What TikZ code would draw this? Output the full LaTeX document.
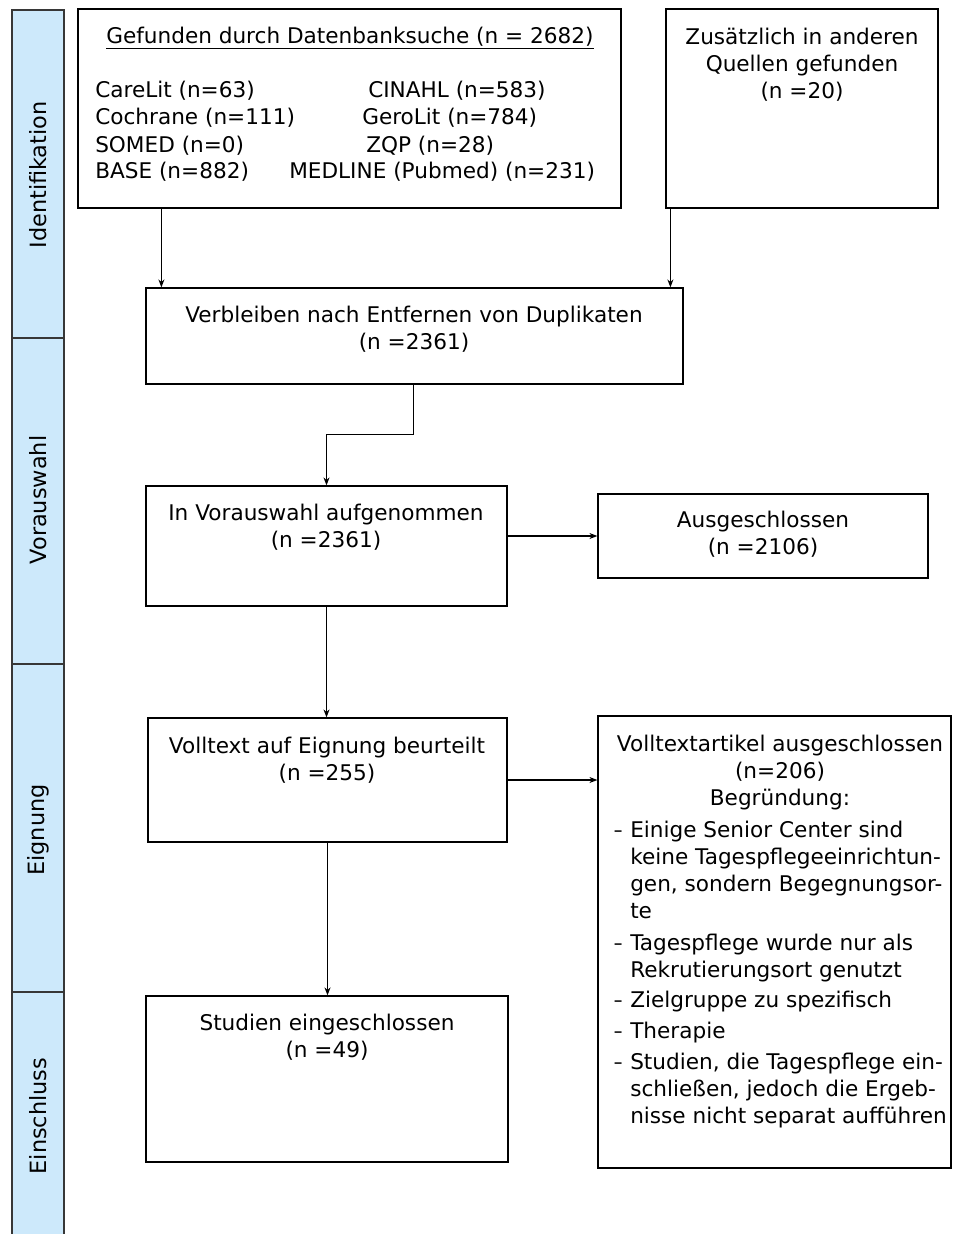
\documentclass[tikz,border=0pt]{standalone}
\usepackage{fontspec}
\setmainfont{DejaVu Sans}
\usetikzlibrary{arrows.meta,fit}
\definecolor{band}{RGB}{205,233,251}
\definecolor{bandline}{RGB}{55,55,55}
\newcommand\rdash{\makebox[12.75pt][l]{\hspace*{0.5pt}\scalebox{0.8}[1]{\textendash}}}
\newcommand\rind{\hspace*{12.75pt}}
\begin{document}
\begin{tikzpicture}[x=0.75pt,y=-0.75pt,
  box/.style={draw=black, line width=0.9pt, fill=white, inner sep=0pt},
  bandbox/.style={fill=band, draw=none, inner sep=0pt},
  bandlabel/.style={rotate=90, font=\fontsize{16.8}{20}\selectfont, inner sep=0pt},
  txt/.style={font=\fontsize{16.2}{20.25}\selectfont, inner sep=0pt, text=black},
  arr/.style={-{Stealth[length=6pt,width=4.5pt]}, line width=0.9pt, black}
]
\useasboundingbox (0,0) rectangle (953,1234);
\fill[white] (0,0) rectangle (953,1234);

% side bands
\node[bandbox, fit={(12,10) (64,338)}] (s1) {};
\node[bandbox, fit={(12,338) (64,664)}] (s2) {};
\node[bandbox, fit={(12,664) (64,992)}] (s3) {};
\node[bandbox, fit={(12,992) (64,1234)}] (s4) {};
\draw[bandline, line width=1.3pt] (s4.south west) -- (s1.north west) -- (s1.north east) -- (s4.south east);
\draw[bandline, line width=1.3pt] (s1.south west) -- (s1.south east);
\draw[bandline, line width=1.3pt] (s2.south west) -- (s2.south east);
\draw[bandline, line width=1.3pt] (s3.south west) -- (s3.south east);
\node[bandlabel] (l1) at (38,175) {Identifikation};
\node[bandlabel] (l2) at (38,500) {Vorauswahl};
\node[bandlabel] (l3) at (38,830) {Eignung};
\node[bandlabel] (l4) at (38,1116) {Einschluss};

% boxes
\node[box, fit={(78,9) (621,208)}] (b1) {};
\node[box, fit={(666,9) (938,208)}] (b2) {};
\node[box, fit={(146,288) (683,384)}] (b3) {};
\node[box, fit={(146,486) (507,606)}] (b4) {};
\node[box, fit={(598,494) (928,578)}] (b5) {};
\node[box, fit={(148,718) (507,842)}] (b6) {};
\node[box, fit={(598,716) (951,1168)}] (b7) {};
\node[box, fit={(146,996) (508,1162)}] (b8) {};

% texts top-left box
\node[txt, anchor=base west] (h1) at (106,44) {\underline{Gefunden durch Datenbanksuche (n = 2682)}};
\node[txt, anchor=base west] (d1) at (95,98) {CareLit (n=63)};
\node[txt, anchor=base west] (d2) at (368,98) {CINAHL (n=583)};
\node[txt, anchor=base west] (d3) at (95,125) {Cochrane (n=111)};
\node[txt, anchor=base west] (d4) at (362,125) {GeroLit (n=784)};
\node[txt, anchor=base west] (d5) at (95,152) {SOMED (n=0)};
\node[txt, anchor=base west] (d6) at (366,152) {ZQP (n=28)};
\node[txt, anchor=base west] (d7) at (95,179) {BASE (n=882)};
\node[txt, anchor=base west] (d8) at (289,179) {MEDLINE (Pubmed) (n=231)};

\node[txt, anchor=north, align=center] (t2) at (802,28) {Zusätzlich in anderen\\Quellen gefunden\\(n =20)};
\node[txt, anchor=north, align=center] (t3) at (414,306) {Verbleiben nach Entfernen von Duplikaten\\(n =2361)};
\node[txt, anchor=north, align=center] (t4) at (326,504) {In Vorauswahl aufgenommen\\(n =2361)};
\node[txt, anchor=north, align=center] (t5) at (763,511) {Ausgeschlossen\\(n =2106)};
\node[txt, anchor=north, align=center] (t6) at (327,737) {Volltext auf Eignung beurteilt\\(n =255)};
\node[txt, anchor=north, align=center] (t7) at (780,735) {Volltextartikel ausgeschlossen\\(n=206)\\Begründung:};
\node[txt, anchor=north west, align=left] (t7r) at (613,821) {%
\rdash Einige Senior Center sind\\
\rind keine Tagespflegeeinrichtun-\\
\rind gen, sondern Begegnungsor-\\
\rind te\\[3.5pt]
\rdash Tagespflege wurde nur als\\
\rind Rekrutierungsort genutzt\\[2.5pt]
\rdash Zielgruppe zu spezifisch\\[3pt]
\rdash Therapie\\[3pt]
\rdash Studien, die Tagespflege ein-\\
\rind schließen, jedoch die Ergeb-\\
\rind nisse nicht separat aufführen};
\node[txt, anchor=north, align=center] (t8) at (327,1014) {Studien eingeschlossen\\(n =49)};

% connectors
\draw[arr] ([xshift=63pt]b1.south west) -- ([xshift=63pt]b1.south west |- b3.north);
\draw[arr] ([xshift=3.75pt]b2.south west) -- ([xshift=3.75pt]b2.south west |- b3.north);
\draw[arr] ([xshift=201pt]b3.south west) -- ++(0,50) -| (b4.north);
\draw[arr] (b4.east |- b5.west) -- (b5.west);
\draw[arr] (b4.south) -- (b4.south |- b6.north);
\draw[arr] (b6.east) -- (b6.east -| b7.west);
\draw[arr] (b6.south) -- (b6.south |- b8.north);
\end{tikzpicture}
\end{document}
